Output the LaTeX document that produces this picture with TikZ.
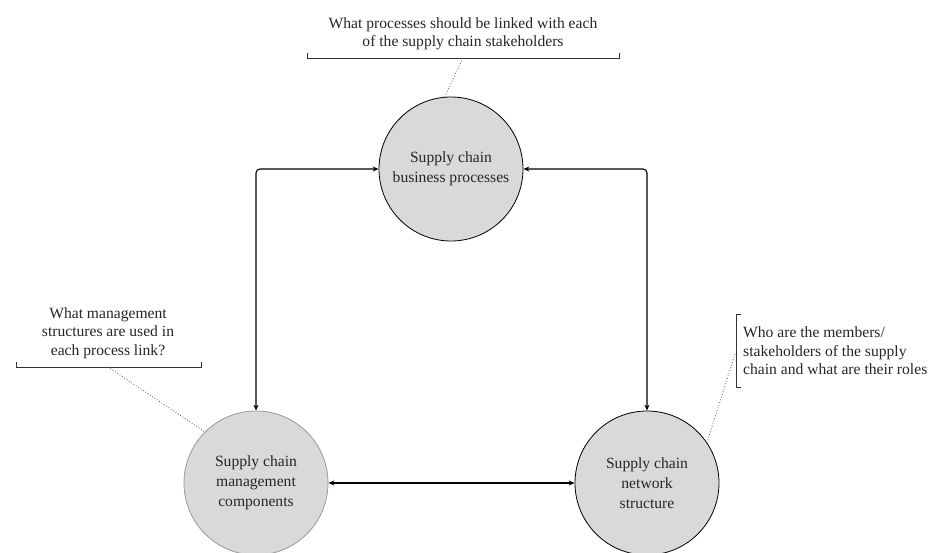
\documentclass[tikz,border=0pt]{standalone}
\usepackage{fontspec}
\setmainfont{Liberation Serif}
\usetikzlibrary{arrows.meta,calc}
\definecolor{discfill}{HTML}{D9D9D9}
\definecolor{softedge}{HTML}{9A9A9A}
\begin{document}
\begin{tikzpicture}[x=1pt,y=1pt,
  disc/.style={circle,draw=black,line width=0.8pt,fill=discfill,minimum size=144pt,
    inner sep=0pt,align=center,font=\fontsize{15.6}{20}\selectfont,text=black!85},
  link/.style={line width=1.1pt,{Stealth[length=6pt,width=5pt]}-{Stealth[length=6pt,width=5pt]},rounded corners=4pt},
  note/.style={font=\fontsize{15.6}{18.5}\selectfont,text=black!85,inner sep=0pt},
  brack/.style={line width=0.9pt,black!80},
  hint/.style={dotted,line width=0.8pt,black!65}]
\useasboundingbox (0,0) rectangle (939,-552);

% the three dimensions
\node[disc] (proc) at (451,-169) {Supply chain\\business processes};
\node[disc,draw=softedge] (mgmt) at (256,-483) {Supply chain\\management\\components};
\node[disc] (net) at (647,-483) {Supply chain\\network\\structure};

% links between them
\draw[link] (mgmt.north) -- (mgmt.north |- proc.west) -- (proc.west);
\draw[link] (proc.east) -- (proc.east -| net.north) -- (net.north);
\draw[link] (mgmt.east) -- (net.west);

% question above the processes
\node[note,align=center] (qproc) at (463,-34) {What processes should be linked with each\\of the supply chain stakeholders};
\coordinate (pl) at (307,-58);
\coordinate (pr) at (619,-58);
\coordinate (pm) at (463,-58);
\draw[brack] ($(pl)+(0,5)$) -- (pl) -- (pr) -- ($(pr)+(0,5)$);
\draw[hint] (pm) -- (proc.95);

% question beside the management components
\node[note,align=center] (qmgmt) at (108,-333) {What management\\structures are used in\\each process link?};
\coordinate (ml) at (16,-367);
\coordinate (mr) at (201,-367);
\coordinate (mm) at (108,-367);
\draw[brack] ($(ml)+(0,5)$) -- (ml) -- (mr) -- ($(mr)+(0,5)$);
\draw[hint] (mm) -- (mgmt.135);

% question beside the network structure
\node[note,align=left,anchor=west] (qnet) at (743,-351) {Who are the members/\\stakeholders of the supply\\chain and what are their roles};
\coordinate (nt) at (736,-314);
\coordinate (nb) at (736,-387);
\coordinate (nm) at (735,-354);
\draw[brack] ($(nt)+(5,0)$) -- (nt) -- (nb) -- ($(nb)+(5,0)$);
\draw[hint] (nm) -- (net.34);
\end{tikzpicture}
\end{document}
